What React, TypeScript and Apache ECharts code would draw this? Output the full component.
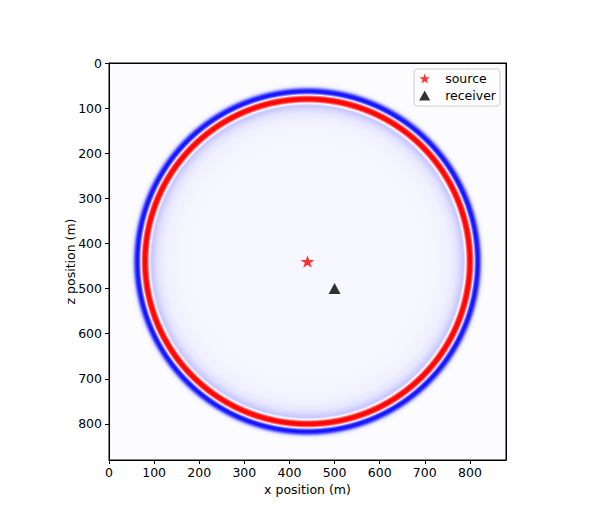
import React, { useEffect, useRef } from "react";
import * as echarts from "echarts";

// ---- data ----
const xTicks = [0, 100, 200, 300, 400, 500, 600, 700, 800];
const zTicks = [0, 100, 200, 300, 400, 500, 600, 700, 800];
const domainMax = 880;

const sourcePos = [440, 440];
const receiverPos = [500, 500];

// radial profile of the wavefield snapshot around the source (m, normalised amplitude)
const profileRadius = [0, 250, 290, 315, 330, 340, 345, 348, 351, 353, 356, 360, 364, 367, 369, 371, 374, 378, 382, 385, 388, 392, 400, 420];
const profileAmplitude = [-0.03, -0.03, -0.04, -0.06, -0.1, -0.17, -0.22, -0.13, 0, 0.45, 0.92, 1, 0.92, 0.45, 0, -0.4, -0.85, -0.95, -0.7, -0.35, -0.12, -0.03, -0.012, -0.012];
const backgroundAmplitude = -0.012;

const STAR =
  "path://M100,0 L122.45,69.1 L195.1,69.1 L136.3,111.8 L158.8,180.9 L100,138.2 L41.2,180.9 L63.7,111.8 L4.9,69.1 L77.55,69.1 Z";
const TRIANGLE = "path://M50,0 L100,90 L0,90 Z";

function bwr(a: number): string {
  const v = Math.max(-1, Math.min(1, a));
  if (v < 0) {
    const c = Math.round(255 * (1 + v));
    return `rgb(${c},${c},255)`;
  }
  const c = Math.round(255 * (1 - v));
  return `rgb(255,${c},${c})`;
}

const FONT = "DejaVu Sans";
const FS = 12.5;

export default function App() {
  const ref = useRef<HTMLDivElement>(null);
  useEffect(() => {
    if (!ref.current) return;
    const chart = echarts.init(ref.current, undefined, { renderer: "svg" });
    const rMax = profileRadius[profileRadius.length - 1];
    const stops = profileRadius.map((r, i) => ({
      offset: r / rMax,
      color: bwr(profileAmplitude[i]),
    }));

    const axisCommon = {
      type: "value" as const,
      min: 0,
      max: domainMax,
      interval: 100,
      z: 10,
      nameLocation: "middle" as const,
      nameMoveOverlap: false,
      nameTextStyle: { fontSize: FS, color: "#000", fontFamily: FONT },
      axisLine: { show: true, onZero: false, lineStyle: { color: "#000", width: 1 } },
      splitLine: { show: false },
    };
    const frameAxis = {
      type: "value" as const,
      min: 0,
      max: domainMax,
      interval: 100,
      z: 10,
      axisLine: { show: true, onZero: false, lineStyle: { color: "#000", width: 1 } },
      axisTick: { show: false },
      axisLabel: { show: false },
      splitLine: { show: false },
    };

    chart.setOption({
      animation: false,
      textStyle: { fontFamily: FONT },
      grid: {
        left: 109,
        top: 63,
        width: 397,
        height: 397,
        show: true,
        backgroundColor: bwr(backgroundAmplitude),
        borderColor: "#000",
        borderWidth: 1,
      },
      legend: {
        orient: "vertical",
        right: 98,
        top: 69,
        padding: [3, 4, 4, 5],
        itemWidth: 31,
        itemHeight: 10,
        itemGap: 4,
        selectedMode: false,
        backgroundColor: "rgba(255,255,255,0.8)",
        borderColor: "#cccccc",
        borderWidth: 1,
        borderRadius: 3,
        textStyle: { fontSize: FS, color: "#000", fontFamily: FONT },
        data: [
          { name: "source", icon: STAR },
          { name: "receiver", icon: TRIANGLE },
        ],
      },
      xAxis: [
        {
          ...axisCommon,
          position: "bottom",
          name: "x position (m)",
          nameGap: 23,
          axisTick: { show: true, length: 4, customValues: xTicks, lineStyle: { color: "#000" } },
          axisLabel: { customValues: xTicks, fontSize: FS, color: "#000", margin: 6, fontFamily: FONT },
        },
        { ...frameAxis, position: "top" },
      ],
      yAxis: [
        {
          ...axisCommon,
          inverse: true,
          position: "left",
          name: "z position (m)",
          nameRotate: 90,
          nameGap: 32,
          axisTick: { show: true, length: 4, customValues: zTicks, lineStyle: { color: "#000" } },
          axisLabel: { customValues: zTicks, fontSize: FS, color: "#000", margin: 7, fontFamily: FONT },
        },
        { ...frameAxis, inverse: true, position: "right" },
      ],
      series: [
        {
          type: "custom",
          name: "wavefield",
          clip: true,
          silent: true,
          z: 1,
          encode: { x: 0, y: 1 },
          data: [[sourcePos[0], sourcePos[1], rMax]],
          renderItem: (params: any, api: any) => {
            const c = api.coord([api.value(0), api.value(1)]);
            const sz = api.size([api.value(2), api.value(2)]);
            const R = Math.abs(sz[0]);
            return {
              type: "circle",
              shape: { cx: c[0], cy: c[1], r: R },
              style: {
                fill: new echarts.graphic.RadialGradient(0.5, 0.5, 0.5, stops),
              },
              silent: true,
            };
          },
        },
        {
          type: "scatter",
          name: "source",
          z: 5,
          symbol: STAR,
          symbolSize: [14, 13.3],
          symbolKeepAspect: true,
          itemStyle: { color: "#ff0000" },
          data: [sourcePos],
        },
        {
          type: "scatter",
          name: "receiver",
          z: 5,
          symbol: "triangle",
          symbolSize: [12, 11],
          itemStyle: { color: "#000000" },
          data: [receiverPos],
        },
      ],
    });
    return () => chart.dispose();
  }, []);
  return (
    <div
      ref={ref}
      style={{ position: "fixed", left: 0, top: 0, width: 598, height: 526, background: "#fff" }}
    />
  );
}
